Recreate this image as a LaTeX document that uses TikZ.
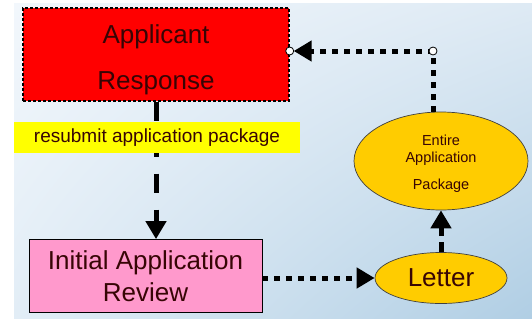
\documentclass[tikz,border=0pt]{standalone}
\usepackage{fontspec}
\setmainfont{Liberation Sans}
\usepackage{tikz}
\usetikzlibrary{arrows.meta,positioning,calc,shapes.geometric,shadings}
\usepackage{xcolor}
\tikzset{>={Triangle[length=18pt,width=20pt]}}
\definecolor{bgTL}{RGB}{242,247,252}
\definecolor{bgTR}{RGB}{222,234,244}
\definecolor{bgBL}{RGB}{226,237,246}
\definecolor{bgBR}{RGB}{176,206,228}
\definecolor{RESPcolor}{RGB}{255,0,0}
\definecolor{NOTEcolor}{RGB}{255,255,0}
\definecolor{REVcolor}{RGB}{255,153,204}
\definecolor{LETcolor}{RGB}{255,204,0}
\definecolor{TXTcolor}{RGB}{55,5,5}

\begin{document}
\begin{tikzpicture}[x=1pt,y=-1pt,every node/.style={text=TXTcolor,inner sep=0pt},
  respbox/.style={rectangle,fill=RESPcolor,draw=black,line width=1.4pt,dash pattern=on 3pt off 2pt,
    minimum width=266pt,minimum height=93pt,align=center,font=\fontsize{26}{46}\selectfont,
    text height=69.5pt,text depth=0pt},
  notebox/.style={rectangle,fill=NOTEcolor,minimum width=286pt,minimum height=31pt,
    font=\fontsize{19}{22}\selectfont},
  revbox/.style={rectangle,fill=REVcolor,draw=black,line width=0.8pt,minimum width=233pt,
    minimum height=73pt,align=center,font=\fontsize{26}{32}\selectfont},
  oval/.style={ellipse,fill=LETcolor,draw=black!75,line width=0.7pt,align=center},
  dashlink/.style={line width=5pt,dash pattern=on 19pt off 17pt,->},
  shortlink/.style={line width=5pt,dash pattern=on 10pt off 6pt,->},
  dotlink/.style={line width=5pt,dash pattern=on 6pt off 6pt},
  knot/.style={circle,draw=black,fill=white,line width=0.8pt,minimum size=8pt}]
  \useasboundingbox (0,0) rectangle (532,322);
  \shade[upper left=bgTL,upper right=bgTR,lower left=bgBL,lower right=bgBR] (14,3) rectangle (532,318);

  \node[respbox] (resp) at (156,54.5) {Applicant\\Response};
  \node[revbox] (review) at (145.5,276) {Initial Application\\Review};
  \node[oval,minimum width=132pt,minimum height=51pt,font=\fontsize{26}{30}\selectfont]
    (letter) at (441,278) {Letter};
  \node[oval,minimum width=174pt,minimum height=98pt,font=\fontsize{14.5}{17}\selectfont,
    text height=57.5pt,text depth=0pt] (pkg) at (441,161) {Entire\\Application\\[10pt]Package};
  \coordinate (corner) at (433,51);

  \draw[dashlink] (resp.south) -- (resp.south |- review.north);
  \node[notebox] (note) at (157,137.5) {resubmit application package};
  \draw[dotlink,->] (review.east |- letter) -- (letter.west);
  \draw[shortlink] (letter.north) -- (pkg.south);
  \draw[dotlink,->,shorten >=4pt] (corner |- pkg.north) -- (corner) -- (resp.east |- corner);
  \node[knot] (k1) at (corner) {};
  \node[knot] (k2) at (resp.east |- corner) {};
\end{tikzpicture}
\end{document}
